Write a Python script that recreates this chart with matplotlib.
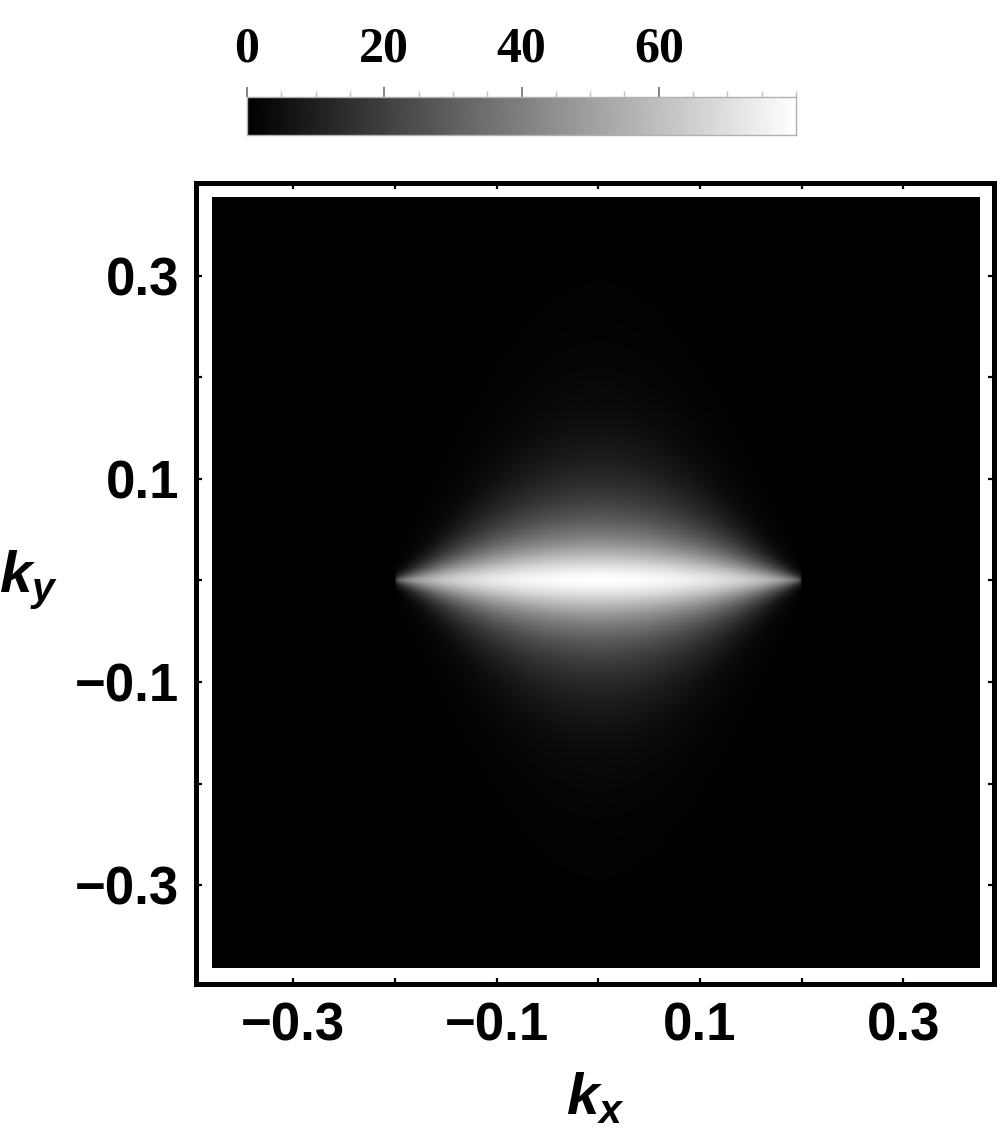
import numpy as np
import matplotlib
matplotlib.use("Agg")
import matplotlib.pyplot as plt
from matplotlib.ticker import MultipleLocator, FixedLocator

plt.rcParams['mathtext.fontset'] = 'custom'
plt.rcParams['mathtext.it'] = 'Liberation Sans:italic:bold'
plt.rcParams['mathtext.rm'] = 'Liberation Sans:bold'

# plot range of the density
kx_range = [-0.380, 0.375]
ky_range = [-0.382, 0.377]

# colour scale
cbar_range = [0, 80]
cbar_major = [0, 20, 40, 60]
cbar_labels = ["0", "20", "40", "60"]

# frame ticks
k_ticks = [-0.3, -0.2, -0.1, 0.0, 0.1, 0.2, 0.3]
k_labels = ["\u22120.3", "", "\u22120.1", "", "0.1", "", "0.3"]

# shape of the bright lens
peak = 80.0         # value at the centre
tip = 0.20          # kx where the lens ends
core_part = 0.5     # share of the sharp core at the centre
core_w = 0.030      # half width of the core in ky at kx = 0
core_pow = 1.0      # narrowing of the core toward the tips
halo_w = 0.070      # width of the glow in ky at kx = 0
halo_pow = 1.5      # narrowing of the glow toward the tips
halo_shape = 1.3    # exponent of the glow profile
fade_pow = 0.3      # fading of the brightness toward the tips
blur = 0.004        # keeps the tips slightly soft

nx, ny = 800, 800
kx = np.linspace(kx_range[0], kx_range[1], nx)
ky = np.linspace(ky_range[0], ky_range[1], ny)
KX, KY = np.meshgrid(kx, ky)

s = np.clip(1 - (KX / tip) ** 2, 0, None)
core = core_part / (1 + (KY / (core_w * s ** core_pow + blur)) ** 2)
halo = (1 - core_part) * np.exp(-(np.abs(KY) / (halo_w * s ** halo_pow + blur)) ** halo_shape)
Z = peak * s ** fade_pow * (core + halo)
Z = np.clip(Z, cbar_range[0], cbar_range[1])

fig = plt.figure(figsize=(10, 11.35), dpi=100)

ax = fig.add_axes([0.1958, 0.1326, 0.7982, 0.7062])
ax.imshow(Z, origin='lower', cmap='gray', vmin=cbar_range[0], vmax=cbar_range[1],
          extent=(kx_range[0], kx_range[1], ky_range[0], ky_range[1]),
          aspect='auto', interpolation='bilinear')
ax.set_xlim(-0.3958, 0.389)
ax.set_ylim(-0.398, 0.3916)
for sp in ax.spines.values():
    sp.set_linewidth(3.6)
ax.xaxis.set_major_locator(FixedLocator(k_ticks))
ax.yaxis.set_major_locator(FixedLocator(k_ticks))
ax.set_xticklabels(k_labels)
ax.set_yticklabels(k_labels)
ax.tick_params(direction='in', length=4.5, width=1.6, top=True, right=True,
               labelsize=38, pad=12)
for lab in ax.get_xticklabels() + ax.get_yticklabels():
    lab.set_fontfamily('Liberation Sans')
    lab.set_fontweight('bold')

fig.text(0.595, 0.033, r'$k_x$', fontsize=42, ha='center', va='center')
fig.text(0.028, 0.489, r'$k_y$', fontsize=42, ha='center', va='center')

# colour bar on top
cax = fig.add_axes([0.247, 0.881, 0.549, 0.0335])
grad = np.linspace(cbar_range[0], cbar_range[1], 512).reshape(1, -1)
cax.imshow(grad, cmap='gray', vmin=cbar_range[0], vmax=cbar_range[1],
           extent=(cbar_range[0], cbar_range[1], 0, 1), aspect='auto')
cax.set_xlim(cbar_range)
cax.set_ylim(0, 1)
cax.set_yticks([])
for sp in cax.spines.values():
    sp.set_color('#b0b0b0')
    sp.set_linewidth(1.0)
cax.xaxis.set_ticks_position('top')
cax.xaxis.set_major_locator(FixedLocator(cbar_major))
cax.xaxis.set_minor_locator(MultipleLocator(5))
cax.set_xticklabels(cbar_labels)
cax.tick_params(axis='x', which='major', direction='out', length=7.5, width=1.2,
                color='#707070', labelsize=36, pad=10)
cax.tick_params(axis='x', which='minor', direction='out', length=4.5, width=1.0,
                color='#c0c0c0')
for lab in cax.get_xticklabels():
    lab.set_fontfamily('Liberation Serif')
    lab.set_fontweight('bold')

fig.savefig('out.png', dpi=100)
